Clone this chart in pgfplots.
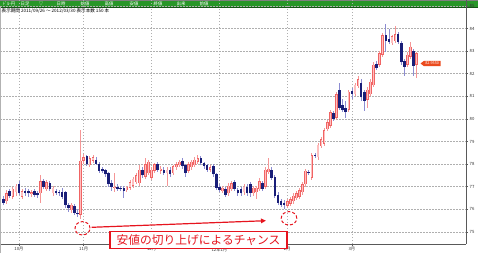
\documentclass[border=0pt]{standalone}
\usepackage{pgfplots}
\pgfplotsset{compat=1.18}
\usepackage{pgfplotstable}
\usepackage{fontspec}
\setmainfont{Noto Sans CJK JP}
\usetikzlibrary{arrows.meta}
\definecolor{upline}{RGB}{240,100,100}
\definecolor{upfill}{RGB}{255,190,190}
\definecolor{upwick}{RGB}{245,150,150}
\definecolor{dnbody}{RGB}{25,30,120}
\definecolor{dnwick}{RGB}{140,140,210}
\definecolor{gridc}{RGB}{175,175,175}
\definecolor{hdr}{RGB}{40,150,40}
\definecolor{ann}{RGB}{230,20,30}
\definecolor{tagc}{RGB}{235,75,30}

\pgfplotstableread{
i o h l c
0 76.45 76.60 76.20 76.30
1 76.35 76.85 76.25 76.70
2 76.80 76.90 76.50 76.58
3 76.55 77.00 76.45 76.90
4 76.75 77.10 76.60 77.05
5 77.10 77.25 76.65 76.70
6 76.55 76.90 76.45 76.80
7 76.82 76.95 76.60 76.72
8 76.80 76.90 76.55 76.70
9 76.68 76.85 76.55 76.75
10 76.82 76.90 76.55 76.65
11 76.70 76.80 76.50 76.62
12 76.72 77.50 76.30 77.25
13 77.25 77.35 76.90 77.00
14 76.90 77.30 76.80 77.20
15 77.15 77.25 76.80 76.90
16 76.70 77.05 76.60 76.95
17 76.82 76.90 76.65 76.72
18 76.78 76.85 76.60 76.70
19 76.75 76.95 76.45 76.55
20 76.75 76.80 76.05 76.20
21 76.20 76.30 75.90 76.05
22 75.95 76.30 75.85 76.20
23 76.15 76.25 75.75 75.85
24 75.85 76.00 75.65 75.78
25 75.75 79.53 75.57 78.15
26 78.15 78.45 78.00 78.30
27 78.35 78.40 77.90 78.00
28 77.95 78.35 77.85 78.25
29 78.15 78.40 78.05 78.30
30 78.20 78.30 77.95 78.00
31 78.00 78.10 77.60 77.70
32 77.80 77.85 77.60 77.68
33 77.75 77.80 77.45 77.55
34 77.60 77.65 77.00 77.10
35 77.15 77.30 76.80 77.00
36 76.95 77.60 76.75 77.00
37 77.00 77.10 76.80 76.90
38 76.95 77.05 76.80 76.88
39 76.95 77.05 76.50 76.80
40 76.85 77.05 76.75 77.00
41 76.95 77.30 76.85 77.20
42 77.05 77.45 76.95 77.35
43 77.20 77.60 77.10 77.50
44 77.15 77.95 77.05 77.75
45 77.75 77.85 77.40 77.50
46 77.45 78.25 77.35 78.00
47 77.60 78.20 77.50 78.10
48 77.40 77.85 77.30 77.75
49 77.70 78.05 77.60 78.00
50 78.00 78.10 77.65 77.75
51 77.70 77.90 77.55 77.80
52 77.75 77.85 77.50 77.60
53 77.60 77.85 77.05 77.75
54 77.75 77.85 77.45 77.55
55 77.60 77.95 77.50 77.90
56 77.85 78.10 77.75 78.00
57 77.95 78.20 77.85 78.10
58 78.15 78.25 77.80 77.90
59 77.95 78.00 77.45 77.60
60 77.70 78.10 77.60 78.00
61 77.85 78.20 77.75 78.10
62 77.95 78.30 77.85 78.20
63 78.10 78.40 78.00 78.25
64 78.25 78.35 77.95 78.05
65 78.05 78.10 77.80 77.90
66 77.95 78.00 77.65 77.75
67 77.75 77.95 77.65 77.85
68 77.90 78.00 77.45 77.55
69 77.55 77.60 76.85 76.95
70 77.00 77.10 76.75 76.85
71 76.80 77.05 76.70 76.95
72 76.90 77.00 76.55 76.65
73 76.70 77.15 76.60 77.05
74 76.90 77.25 76.80 77.15
75 77.20 77.30 76.80 76.90
76 76.85 76.95 76.60 76.70
77 76.90 77.00 76.60 76.70
78 76.75 77.10 76.65 77.00
79 77.00 77.10 76.60 76.70
80 77.10 77.20 76.55 76.70
81 76.70 77.05 76.60 76.95
82 76.75 77.05 76.45 76.95
83 76.90 77.40 76.80 77.25
84 77.15 77.25 76.80 76.90
85 77.00 77.85 76.90 77.75
86 77.65 78.25 77.55 77.80
87 77.75 77.85 77.30 77.40
88 77.45 77.50 76.50 76.60
89 76.65 76.75 76.20 76.30
90 76.35 76.45 76.10 76.20
91 76.30 76.40 76.00 76.20
92 76.15 76.45 76.05 76.35
93 76.25 76.55 76.15 76.45
94 76.35 76.70 76.25 76.60
95 76.50 76.80 76.40 76.70
96 76.55 76.95 76.45 76.85
97 76.75 77.20 76.65 77.10
98 77.10 77.80 77.00 77.70
99 77.65 77.75 77.50 77.60
100 77.40 78.50 77.30 78.40
101 78.40 78.50 78.25 78.35
102 78.30 78.95 78.20 78.85
103 78.80 79.20 78.70 79.10
104 78.90 79.60 78.80 79.50
105 79.55 79.95 79.45 79.85
106 79.70 80.40 79.60 80.30
107 80.25 80.35 79.90 80.00
108 80.05 81.20 79.95 81.10
109 81.30 81.60 80.40 80.50
110 80.60 80.90 80.30 80.40
111 80.50 80.80 80.05 80.30
112 80.40 81.30 80.30 81.20
113 81.25 81.35 80.90 81.10
114 81.10 81.60 81.00 81.50
115 81.45 81.90 81.35 81.75
116 81.60 81.75 80.80 80.95
117 81.20 81.30 80.35 80.80
118 80.85 81.40 80.50 81.30
119 81.10 81.75 81.00 81.65
120 81.50 82.50 81.40 82.40
121 82.45 82.55 82.15 82.25
122 82.40 83.00 82.30 82.90
123 82.85 83.80 82.75 83.70
124 83.70 84.20 82.95 83.45
125 83.55 84.00 83.30 83.40
126 83.35 83.70 83.25 83.65
127 83.45 84.10 83.35 83.75
128 83.75 83.85 83.30 83.40
129 83.35 83.45 82.40 82.50
130 82.55 82.65 81.90 82.30
131 82.40 82.95 82.30 82.85
132 82.75 83.40 82.65 83.20
133 83.00 83.10 81.90 82.35
134 82.40 82.95 81.80 82.90
}\candles

\pgfplotsset{candle/.style={draw=none, mark=none, forget plot,
  error bars/y dir=both, error bars/y explicit, error bars/error mark=none}}

\begin{document}
\begin{tikzpicture}[x=1bp,y=1bp]
\path[use as bounding box] (0,0) rectangle (478,260);
% header bar
\fill[hdr] (0,252.5) rectangle (478,260);
\draw[gray, line width=0.8bp] (0,259.6) -- (478,259.6);
\draw[hdr!55!black, line width=0.6bp] (0,252.8) -- (478,252.8);
\foreach \x/\t in {9/ﾄﾞﾙ-円, 25/日足, 41/▽, 61/日時, 85/始値, 109/高値, 134/安値, 158/終値, 181/出来, 204/前値}
  \node[white, font=\fontsize{4.4}{5}\selectfont, inner sep=0] at (\x,256.2) {\t};
\begin{axis}[at={(0,7)}, anchor=south west, width=466bp, height=245bp, scale only axis,
  xmin=-1.16, xmax=150, ymin=74.455, ymax=85.3,
  axis x line*=bottom, axis y line*=right,
  axis line style={black!65, line width=0.8bp},
  xtick={5,26,48,70,92,113},
  xticklabels={10月,11月,12月,12年1月,2月,3月},
  ytick={75,76,...,85},
  xmajorgrids=true, ymajorgrids=true,
  major grid style={gridc, dash pattern=on 1.5bp off 1.5bp, line width=0.55bp},
  tick align=outside, major tick length=2bp,
  tick style={black!65, line width=0.5bp},
  ticklabel style={font=\fontsize{4.3}{5}\selectfont, black!80},
  /pgf/number format/assume math mode=true,
  yticklabel style={inner sep=1.5bp},
  xticklabel style={inner sep=1bp},
]
% wicks
\addplot[candle, restrict expr to domain={\thisrow{c}-\thisrow{o}}{0:100},
  error bars/error bar style={draw=upwick, line width=0.8bp}]
  table[x=i, y=c, y error plus expr=\thisrow{h}-\thisrow{c}, y error minus expr=\thisrow{c}-\thisrow{l}] {\candles};
\addplot[candle, restrict expr to domain={\thisrow{c}-\thisrow{o}}{-100:-0.0001},
  error bars/error bar style={draw=dnwick, line width=0.8bp}]
  table[x=i, y=c, y error plus expr=\thisrow{h}-\thisrow{c}, y error minus expr=\thisrow{c}-\thisrow{l}] {\candles};
% up bodies
\addplot[candle, restrict expr to domain={\thisrow{c}-\thisrow{o}}{0:100},
  error bars/error bar style={draw=upline, line width=2.6bp}]
  table[x=i, y=c, y error plus expr=0, y error minus expr=\thisrow{c}-\thisrow{o}] {\candles};
\addplot[candle, restrict expr to domain={\thisrow{c}-\thisrow{o}}{0.05:100},
  error bars/error bar style={draw=upfill, line width=1.2bp}]
  table[x=i, y expr=\thisrow{c}-0.02, y error plus expr=0, y error minus expr=\thisrow{c}-\thisrow{o}-0.04] {\candles};
% down bodies
\addplot[candle, restrict expr to domain={\thisrow{c}-\thisrow{o}}{-100:-0.0001},
  error bars/error bar style={draw=dnbody, line width=2.6bp}]
  table[x=i, y=c, y error plus expr=\thisrow{o}-\thisrow{c}, y error minus expr=0] {\candles};
\end{axis}
% left border
\draw[gray!60, line width=0.8bp] (0.4,7) -- (0.4,252.5);
% sub header
\node[anchor=west, font=\fontsize{4.6}{5}\selectfont, inner sep=0] at (1.5,249.3)
  {表示期間 2011/09/26 ～ 2012/03/30 表示本数 150 本};
% price tag
\fill[tagc] (420.5,196.5) -- (424,199.2) -- (440.5,199.2) -- (440.5,193.8) -- (424,193.8) -- cycle;
\node[white, font=\fontsize{3.8}{4}\selectfont, inner sep=0] at (432.2,196.5) {82.9550};
% annotations
\draw[ann, line width=1bp, dash pattern=on 3bp off 2bp] (82.5,31.7) ellipse [x radius=7.5, y radius=6.7];
\draw[ann, line width=1bp, dash pattern=on 3bp off 2bp] (289,41.7) ellipse [x radius=7.8, y radius=6.7];
\draw[ann, line width=1.2bp, -{Triangle[length=5bp, width=4.5bp]}] (91.7,32.7) -- (266,39.3);
\draw[ann, line width=1.5bp, fill=white] (110,11.7) rectangle (287,28.3);
\node[ann, font=\fontsize{11.8}{12}\selectfont, inner sep=0] at (198.5,20) {安値の切り上げによるチャンス};
\end{tikzpicture}
\end{document}
